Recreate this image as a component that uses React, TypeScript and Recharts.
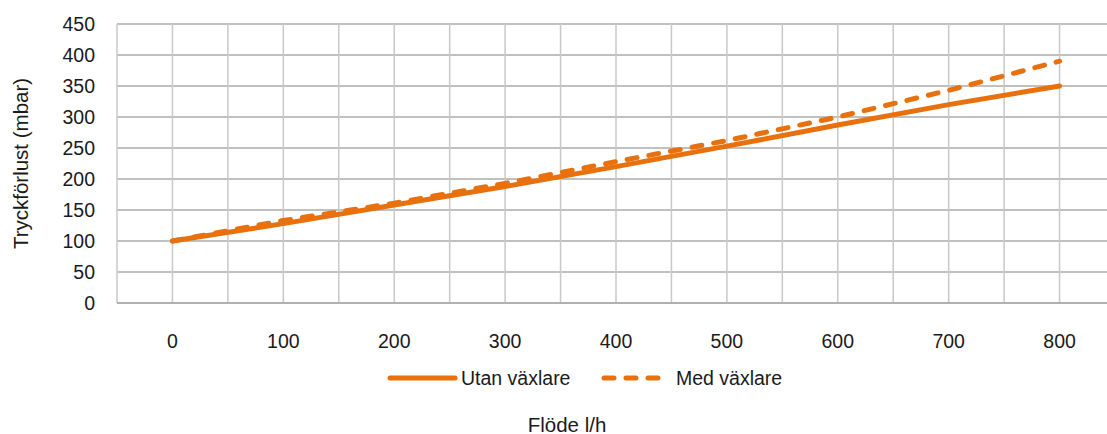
import React from 'react';
import { LineChart, Line, XAxis, YAxis, CartesianGrid, Legend, Label } from 'recharts';

const flow = [0, 100, 200, 300, 400, 500, 600, 700, 800];
const utanVaxlare = [100, 128, 158, 188, 220, 253, 287, 320, 350];
const medVaxlare = [100, 133, 161, 193, 228, 262, 300, 343, 390];
const xTicks = [-50, 0, 50, 100, 150, 200, 250, 300, 350, 400, 450, 500, 550, 600, 650, 700, 750, 800, 850];
const yTicks = [0, 50, 100, 150, 200, 250, 300, 350, 400, 450];
const seriesNames = ['Utan växlare', 'Med växlare'];
const yTitle = 'Tryckförlust (mbar)';
const xTitle = 'Flöde l/h';

const ORANGE = '#E8710E';
const FONT = '"Liberation Sans", Arial, sans-serif';
const TEXT = '#1a1a1a';
const FS = 19.5;
const TFS = 20.5;

const data = flow.map((f, i) => ({ flow: f, utan: utanVaxlare[i], med: medVaxlare[i] }));

const YTitle = (props: any) => {
  const vb = props.viewBox || {};
  const cx = 20;
  const cy = (vb.y || 0) + (vb.height || 0) / 2;
  return (
    <text x={cx} y={cy} transform={`rotate(-90 ${cx} ${cy})`} textAnchor="middle" dominantBaseline="central"
      fontFamily={FONT} fontSize={TFS} fill={TEXT}>{yTitle}</text>
  );
};

const XTitle = (props: any) => {
  const vb = props.viewBox || {};
  const y = (vb.y || 0) + 121;
  return (
    <text x={567} y={y} textAnchor="middle" dominantBaseline="central"
      fontFamily={FONT} fontSize={TFS} fill={TEXT}>{xTitle}</text>
  );
};

const LegendContent = () => (
  <svg width={1107} height={30}>
    <line x1={390} y1={15} x2={455} y2={15} stroke={ORANGE} strokeWidth={5} strokeLinecap="round" />
    <text x={461} y={15} dominantBaseline="central" fontFamily={FONT} fontSize={FS} fill={TEXT}>{seriesNames[0]}</text>
    <line x1={604} y1={15} x2={659} y2={15} stroke={ORANGE} strokeWidth={5} strokeLinecap="round" strokeDasharray="10 12" />
    <text x={676} y={15} dominantBaseline="central" fontFamily={FONT} fontSize={FS} fill={TEXT}>{seriesNames[1]}</text>
  </svg>
);

export default function App() {
  return (
    <div style={{ width: 1107, height: 434, overflow: 'hidden', position: 'relative', background: '#fff' }}>
      <style>{`body{margin:0;}`}</style>
      <LineChart width={1120} height={434} data={data} margin={{ top: 24, right: 5, left: 0, bottom: 0 }}>
        <CartesianGrid vertical={false} stroke="#ABABAB" strokeWidth={1.5} />
        <CartesianGrid horizontal={false} stroke="#C8C8C8" strokeWidth={1.5} />
        <XAxis
          dataKey="flow"
          type="number"
          domain={[-50, 850]}
          ticks={xTicks}
          interval={0}
          height={131}
          axisLine={{ stroke: '#ABABAB', strokeWidth: 1.5 }}
          tickLine={false}
          tickSize={0}
          tickMargin={31}
          tickFormatter={(v: number) => (v >= 0 && v <= 800 && v % 100 === 0 ? String(v) : '')}
          tick={{ fontFamily: FONT, fontSize: FS, fill: TEXT }}
        >
          <Label content={<XTitle />} />
        </XAxis>
        <YAxis
          type="number"
          domain={[0, 450]}
          ticks={yTicks}
          interval={0}
          width={117}
          axisLine={false}
          tickLine={false}
          tickSize={0}
          tickMargin={22}
          tick={{ fontFamily: FONT, fontSize: FS, fill: TEXT }}
        >
          <Label content={<YTitle />} />
        </YAxis>
        <Legend verticalAlign="middle" align="center" layout="horizontal" content={<LegendContent />}
          wrapperStyle={{ top: 363, left: 0, width: 1107, height: 30 }} />
        <Line type="linear" dataKey="utan" name={seriesNames[0]} stroke={ORANGE} strokeWidth={5}
          strokeLinecap="round" dot={false} activeDot={false} isAnimationActive={false} />
        <Line type="linear" dataKey="med" name={seriesNames[1]} stroke={ORANGE} strokeWidth={5}
          strokeLinecap="round" strokeDasharray="10 12" dot={false} activeDot={false} isAnimationActive={false} />
      </LineChart>
    </div>
  );
}
